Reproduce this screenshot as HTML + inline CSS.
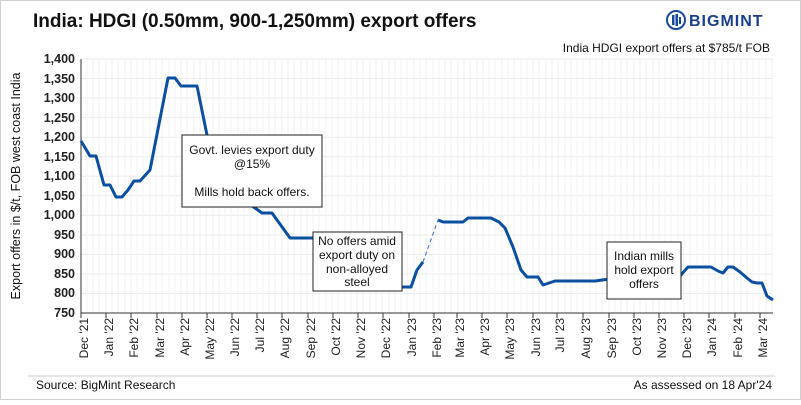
<!DOCTYPE html>
<html><head><meta charset="utf-8"><style>
body{margin:0;background:#fff;font-family:"Liberation Sans",Arial,sans-serif}
svg text{font-family:"Liberation Sans",Arial,sans-serif}
</style></head><body>
<svg width="801" height="400" viewBox="0 0 801 400" xmlns="http://www.w3.org/2000/svg">
<rect x="0.5" y="0.5" width="800" height="399" fill="#fff" stroke="#d0d0d0"/>
<text x="33" y="27" font-size="19" font-weight="bold" fill="#111">India: HDGI (0.50mm, 900-1,250mm) export offers</text>
<g transform="translate(676,20)">
<circle cx="0" cy="0" r="9" fill="none" stroke="#1a4a9c" stroke-width="2"/>
<rect x="-4" y="-5" width="2.5" height="10" fill="#1a4a9c"/><rect x="-0.5" y="-6" width="2.5" height="12" fill="#1a4a9c"/><rect x="3" y="-3" width="2" height="7" fill="#1a4a9c"/>
<text x="13" y="6" font-size="16" font-weight="bold" fill="#1a3f8a" letter-spacing="1">BIGMINT</text>
</g>
<text x="770" y="52" font-size="12" fill="#111" text-anchor="end">India HDGI export offers at $785/t FOB</text>
<g id="grid" stroke="#ececec" stroke-width="1">
<line x1="81" x2="773" y1="59" y2="59"/><line x1="81" x2="773" y1="78.5" y2="78.5"/><line x1="81" x2="773" y1="98" y2="98"/><line x1="81" x2="773" y1="117.6" y2="117.6"/><line x1="81" x2="773" y1="137.2" y2="137.2"/><line x1="81" x2="773" y1="156.7" y2="156.7"/><line x1="81" x2="773" y1="176.2" y2="176.2"/><line x1="81" x2="773" y1="195.8" y2="195.8"/><line x1="81" x2="773" y1="215.3" y2="215.3"/><line x1="81" x2="773" y1="234.9" y2="234.9"/><line x1="81" x2="773" y1="254.4" y2="254.4"/><line x1="81" x2="773" y1="274" y2="274"/><line x1="81" x2="773" y1="293.5" y2="293.5"/>
</g>
<g stroke="#f0f0f0" stroke-width="1">
<path d="M87,59V313M93,59V313M99,59V313M106,59V313M112,59V313M118,59V313M125,59V313M131,59V313M137,59V313M143,59V313M150,59V313M156,59V313M162,59V313M169,59V313M175,59V313M181,59V313M187,59V313M194,59V313M200,59V313M206,59V313M213,59V313M219,59V313M225,59V313M231,59V313M238,59V313M244,59V313M250,59V313M257,59V313M263,59V313M269,59V313M275,59V313M282,59V313M288,59V313M294,59V313M301,59V313M307,59V313M313,59V313M319,59V313M326,59V313M332,59V313M338,59V313M345,59V313M351,59V313M357,59V313M363,59V313M370,59V313M376,59V313M382,59V313M389,59V313M395,59V313M401,59V313M407,59V313M414,59V313M420,59V313M426,59V313M433,59V313M439,59V313M445,59V313M451,59V313M458,59V313M464,59V313M470,59V313M477,59V313M483,59V313M489,59V313M495,59V313M502,59V313M508,59V313M514,59V313M521,59V313M527,59V313M533,59V313M539,59V313M546,59V313M552,59V313M558,59V313M565,59V313M571,59V313M577,59V313M583,59V313M590,59V313M596,59V313M602,59V313M609,59V313M615,59V313M621,59V313M627,59V313M634,59V313M640,59V313M646,59V313M653,59V313M659,59V313M665,59V313M671,59V313M678,59V313M684,59V313M690,59V313M697,59V313M703,59V313M709,59V313M715,59V313M722,59V313M728,59V313M734,59V313M741,59V313M747,59V313M753,59V313M759,59V313M766,59V313M772,59V313"/>
</g>
<line x1="81" y1="59" x2="81" y2="313" stroke="#333"/>
<line x1="81" y1="313" x2="773" y2="313" stroke="#333"/>
<g font-size="12.5" font-weight="bold" fill="#222" text-anchor="end">
<text x="75" y="63">1,400</text><text x="75" y="83">1,350</text><text x="75" y="102">1,300</text><text x="75" y="122">1,250</text><text x="75" y="141">1,200</text><text x="75" y="161">1,150</text><text x="75" y="180">1,100</text><text x="75" y="200">1,050</text><text x="75" y="219">1,000</text><text x="75" y="239">950</text><text x="75" y="258">900</text><text x="75" y="278">850</text><text x="75" y="297">800</text><text x="75" y="317">750</text>
</g>
<text transform="translate(20,186) rotate(-90)" font-size="12.5" fill="#111" text-anchor="middle">Export offers in $/t, FOB west coast India</text>
<g stroke="#333" stroke-width="1">
<path d="M81,313v5M106,313v5M131,313v5M157,313v5M182,313v5M207,313v5M232,313v5M257,313v5M282,313v5M308,313v5M333,313v5M358,313v5M383,313v5M409,313v5M434,313v5M457,313v5M482,313v5M507,313v5M533,313v5M557,313v5M583,313v5M609,313v5M634,313v5M659,313v5M684,313v5M709,313v5M735,313v5M760,313v5"/>
</g>
<g font-size="12" fill="#222" text-anchor="end">
<text transform="translate(88,318) rotate(-90)">Dec '21</text><text transform="translate(113,318) rotate(-90)">Jan '22</text><text transform="translate(138,318) rotate(-90)">Feb '22</text><text transform="translate(164,318) rotate(-90)">Mar '22</text><text transform="translate(189,318) rotate(-90)">Apr '22</text><text transform="translate(214,318) rotate(-90)">May '22</text><text transform="translate(239,318) rotate(-90)">Jun '22</text><text transform="translate(264,318) rotate(-90)">Jul '22</text><text transform="translate(289,318) rotate(-90)">Aug '22</text><text transform="translate(315,318) rotate(-90)">Sep '22</text><text transform="translate(340,318) rotate(-90)">Oct '22</text><text transform="translate(365,318) rotate(-90)">Nov '22</text><text transform="translate(390,318) rotate(-90)">Dec '22</text><text transform="translate(416,318) rotate(-90)">Jan '23</text><text transform="translate(441,318) rotate(-90)">Feb '23</text><text transform="translate(464,318) rotate(-90)">Mar '23</text><text transform="translate(489,318) rotate(-90)">Apr '23</text><text transform="translate(514,318) rotate(-90)">May '23</text><text transform="translate(540,318) rotate(-90)">Jun '23</text><text transform="translate(564,318) rotate(-90)">Jul '23</text><text transform="translate(590,318) rotate(-90)">Aug '23</text><text transform="translate(616,318) rotate(-90)">Sep '23</text><text transform="translate(641,318) rotate(-90)">Oct '23</text><text transform="translate(666,318) rotate(-90)">Nov '23</text><text transform="translate(691,318) rotate(-90)">Dec '23</text><text transform="translate(716,318) rotate(-90)">Jan '24</text><text transform="translate(742,318) rotate(-90)">Feb '24</text><text transform="translate(767,318) rotate(-90)">Mar '24</text>
</g>
<g fill="none" stroke="#0a4fa0" stroke-width="3" stroke-linejoin="round">
<polyline points="81,141 90,156 96,156 104,185 110,185 116,197 122,197 128,190 134,181 140,181 150,170 168,78 175,78 181,86 197,86 207,135 230,190 262,213 272,213 290,238 316,238"/>
<polyline points="400,287 411,287 417,270 423,262"/>
<polyline points="438,220 443,222 463,222 468,218 491,218 499,222 505,228 513,247 521,270 527,277 538,277 543,285 555,281 595,281 602,280 610,279"/>
<polyline points="680,276 688,267 711,267 718,271 723,273 728,267 733,267 740,272 747,278 752,282 757,283 762,283 767,296 773,300"/>
</g>
<line x1="423" y1="262" x2="438" y2="220" stroke="#4a7fc8" stroke-width="1.2" stroke-dasharray="4,3"/>
<g font-size="12" fill="#111" text-anchor="middle">
<rect x="182" y="135" width="140" height="72" fill="#fff" stroke="#222"/>
<text x="252" y="154">Govt. levies export duty</text><text x="252" y="168">@15%</text><text x="252" y="196">Mills hold back offers.</text>
<rect x="313" y="232" width="89" height="59" fill="#fff" stroke="#222"/>
<text x="357" y="245">No offers amid</text><text x="357" y="259">export duty on</text><text x="357" y="273">non-alloyed</text><text x="357" y="286">steel</text>
<rect x="607" y="242" width="74" height="57" fill="#fff" stroke="#222"/>
<text x="644" y="260">Indian mills</text><text x="644" y="274">hold export</text><text x="644" y="288">offers</text>
</g>
<line x1="28" y1="376" x2="775" y2="376" stroke="#ccc"/>
<text x="36" y="389" font-size="12" fill="#111">Source:  BigMint  Research</text>
<text x="772" y="389" font-size="12" fill="#111" text-anchor="end">As assessed on 18 Apr'24</text>
</svg>
</body></html>
